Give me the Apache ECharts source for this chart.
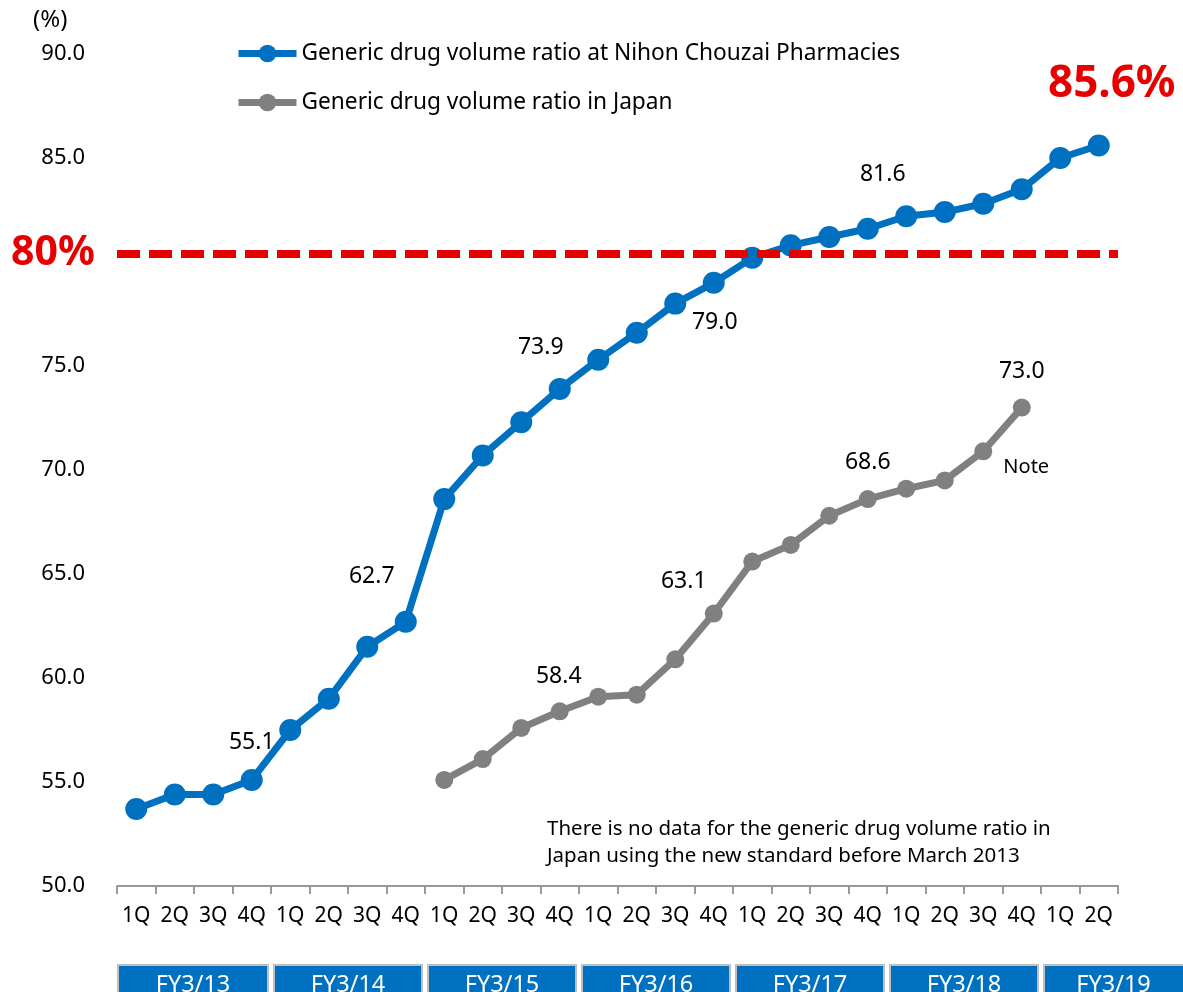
<!DOCTYPE html>
<html>
<head>
<meta charset="utf-8">
<script src="https://cdn.jsdelivr.net/npm/echarts@6/dist/echarts.min.js"></script>
<style>html,body{margin:0;padding:0;background:#fff}#c{width:1183px;height:992px}</style>
</head>
<body>
<div id="c"></div>
<script>
// ---------- data ----------
const quarters = ['1Q','2Q','3Q','4Q','1Q','2Q','3Q','4Q','1Q','2Q','3Q','4Q','1Q','2Q','3Q','4Q','1Q','2Q','3Q','4Q','1Q','2Q','3Q','4Q','1Q','2Q'];
const fiscalYears = ['FY3/13','FY3/14','FY3/15','FY3/16','FY3/17','FY3/18','FY3/19'];
const quartersPerYear = [4,4,4,4,4,4,2];
const seriesNames = ['Generic drug volume ratio at Nihon Chouzai Pharmacies','Generic drug volume ratio in Japan'];
const nihonChouzai = [53.7,54.4,54.4,55.1,57.5,59.0,61.5,62.7,68.6,70.7,72.3,73.9,75.3,76.6,78.0,79.0,80.2,80.8,81.2,81.6,82.2,82.4,82.8,83.5,85.0,85.6];
const japan = [null,null,null,null,null,null,null,null,55.1,56.1,57.6,58.4,59.1,59.2,60.9,63.1,65.6,66.4,67.8,68.6,69.1,69.5,70.9,73.0,null,null];
const yMin = 50, yMax = 90, yStep = 5;
const targetLine = 80.4;
const targetLabel = '80%';
const noteLines = ['There is no data for the generic drug volume ratio in','Japan using the new standard before March 2013'];

// ---------- label placement (style only) ----------
const blueLabelOffsets = {3:[0,-37],7:[-34,-45],11:[-19,-41],15:[1,40],19:[15,-54]};
const blueHighlightOffsets = {25:[13,-61]};
const grayLabelOffsets = {11:[-1,-35],15:[-30,-32],19:[0,-37],23:[0,-36]};
const grayNoteOffsets = {22:[43,16]};

const FONT = 'Noto Sans';
const BLUE = '#0070C0', GRAY = '#808080', RED = '#E60000';

function buildData(values, offsets, special, specialLabel) {
  return values.map((v, i) => {
    if (v == null) return '-';
    const item = {value: v};
    if (offsets[i]) {
      item.label = {show:true, position:'inside', offset:offsets[i], formatter:v.toFixed(1),
        fontSize:23, color:'#000', fontFamily:FONT};
    } else if (special[i]) {
      item.label = Object.assign({show:true, position:'inside', offset:special[i], fontFamily:FONT}, specialLabel(v));
    }
    return item;
  });
}

const chart = echarts.init(document.getElementById('c'));
const option = {
  animation:false,
  backgroundColor:'#fff',
  grid:{left:117, right:65, top:54, bottom:106, containLabel:false},
  legend:{
    orient:'vertical', left:235, top:42, padding:0, itemWidth:58, itemHeight:22, itemGap:26,
    selectedMode:false, data:seriesNames,
    lineStyle:{width:7},
    textStyle:{fontSize:22.7, color:'#000', fontFamily:FONT}
  },
  xAxis:{
    type:'category', data:quarters, boundaryGap:true,
    axisLine:{lineStyle:{color:'#999', width:2}},
    axisTick:{show:true, interval:0, length:8, lineStyle:{color:'#999', width:2}},
    axisLabel:{interval:0, fontSize:21, color:'#000', fontFamily:FONT, margin:20}
  },
  yAxis:{
    type:'value', min:yMin, max:yMax, interval:yStep,
    axisLine:{show:false}, axisTick:{show:false}, splitLine:{show:false},
    axisLabel:{fontSize:22, color:'#000', fontFamily:FONT, margin:32,
      formatter:v => (v === 80 ? '' : v.toFixed(1))}
  },
  series:[
    {
      name:seriesNames[0], type:'line', z:3,
      data:buildData(nihonChouzai, blueLabelOffsets, blueHighlightOffsets,
        v => ({formatter:v.toFixed(1)+'%', fontSize:44, fontWeight:'bold', color:RED})),
      symbol:'circle', symbolSize:22,
      lineStyle:{color:BLUE, width:7}, itemStyle:{color:BLUE},
      markLine:{
        silent:true, symbol:'none', z:10,
        lineStyle:{color:RED, width:8, type:[23,9]},
        label:{show:true, position:'start', formatter:targetLabel, fontSize:41, fontWeight:'bold', color:RED, fontFamily:FONT, distance:22},
        data:[{yAxis:targetLine}]
      }
    },
    {
      name:seriesNames[1], type:'line', z:2,
      data:buildData(japan, grayLabelOffsets, grayNoteOffsets,
        v => ({formatter:'Note', fontSize:20, color:'#000'})),
      symbol:'circle', symbolSize:18,
      lineStyle:{color:GRAY, width:7}, itemStyle:{color:GRAY}
    }
  ],
  graphic:[
    {type:'text', left:33, top:8, style:{text:'(%)', fontSize:24, fill:'#000', fontFamily:FONT}},
    {type:'text', left:547, top:816, style:{text:noteLines.join('\n'), fontSize:20.5, lineHeight:27, fill:'#000', fontFamily:FONT}}
  ]
};
chart.setOption(option);

// fiscal-year boxes under the axis, positioned from the category scale
const c0 = chart.convertToPixel({xAxisIndex:0}, 0);
const c1 = chart.convertToPixel({xAxisIndex:0}, 1);
const band = c1 - c0;
let startIdx = 0;
const boxes = [];
fiscalYears.forEach((fy, k) => {
  const left = c0 - band/2 + startIdx*band;
  const right = left + quartersPerYear[k]*band;
  startIdx += quartersPerYear[k];
  const last = k === fiscalYears.length - 1;
  const x0 = k === 0 ? left + 1 : left + 3;
  const x1 = last ? 1200 : right - 3;
  const textCx = last ? (x0 + 1183) / 2 : (x0 + x1) / 2;
  boxes.push({type:'rect', shape:{x:x0, y:965, width:x1 - x0, height:40},
    style:{fill:BLUE, stroke:'#BFBFBF', lineWidth:2}});
  boxes.push({type:'text', x:textCx, y:985,
    style:{text:fy, fontSize:23.5, fill:'#fff', fontFamily:FONT, align:'center', verticalAlign:'middle'}});
});
chart.setOption({graphic: option.graphic.concat(boxes)}, {replaceMerge:['graphic']});
</script>
</body>
</html>
